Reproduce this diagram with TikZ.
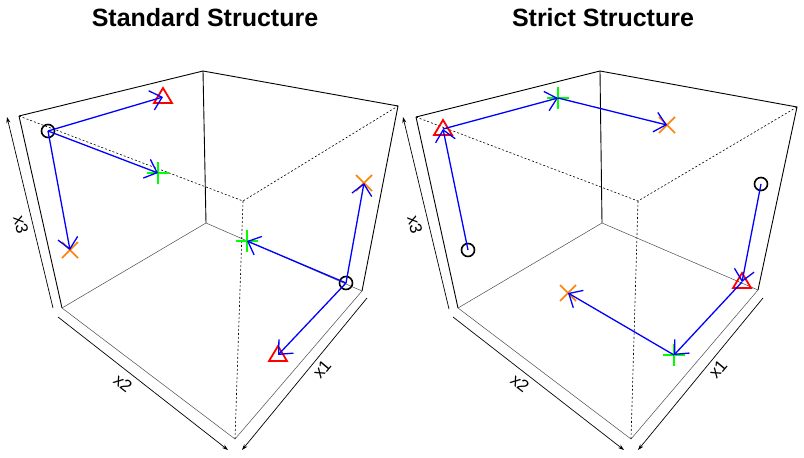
\documentclass[tikz,border=0pt]{standalone}
\usepackage{fontspec}
\setmainfont{Liberation Sans}
\usetikzlibrary{arrows.meta,calc}
\begin{document}
\begin{tikzpicture}[x=1pt,y=-1pt,
  frame/.style={black,line width=0.9pt},
  thinl/.style={black!70,line width=0.5pt},
  dsh/.style={black,line width=0.6pt,dash pattern=on 2pt off 2pt},
  axis/.style={black,line width=0.7pt,-{Stealth[length=6pt,width=4pt]}},
  lab/.style={font=\fontsize{17}{17}\selectfont,inner sep=0pt},
  title/.style={font=\bfseries\fontsize{25}{25}\selectfont},
  vec/.style={blue,line width=1.3pt,-{Straight Barb[length=11pt,width=20pt,line width=1.3pt]}},
  circ/.style={black,line width=1.6pt},
  tri/.style={red,line width=1.8pt},
  pl/.style={green,line width=1.6pt},
  xx/.style={orange,line width=1.6pt}]
\useasboundingbox (0,0) rectangle (804,458);
% markers
\newcommand{\mcirc}[1]{\draw[circ] (#1) circle (6.5);}
\newcommand{\mtri}[1]{\draw[tri] ($(#1)+(0,-9)$) -- ($(#1)+(9,6)$) -- ($(#1)+(-9,6)$) -- cycle;}
\newcommand{\mplus}[1]{\draw[pl] ($(#1)+(-11,0)$) -- ($(#1)+(11,0)$) ($(#1)+(0,-11)$) -- ($(#1)+(0,11)$);}
\newcommand{\mx}[1]{\draw[xx] ($(#1)+(-8,-8)$) -- ($(#1)+(8,8)$) ($(#1)+(8,-8)$) -- ($(#1)+(-8,8)$);}
% ---------- left panel
\node[title] (t1) at (205,18) {Standard Structure};
\coordinate (LA) at (19,116); \coordinate (LB) at (203,71); \coordinate (LC) at (398,106);
\coordinate (LD) at (243,201); \coordinate (LE) at (62,308); \coordinate (LF) at (206,223);
\coordinate (LG) at (362,291); \coordinate (LH) at (235,439);
\draw[frame] (LA) -- (LB) -- (LC) -- (LG); \draw[frame] (LA) -- (LE); \draw[frame] (LB) -- (LF);
\draw[thinl] (LE) -- (LF) -- (LG) -- (LH) -- (LE);
\draw[dsh] (LA) -- (LD) -- (LC); \draw[dsh] (LD) -- (LH);
\coordinate (L3a) at (53,308); \coordinate (L3b) at (7,117);
\coordinate (L2a) at (58,317); \coordinate (L2b) at (228,450);
\coordinate (L1a) at (367,298); \coordinate (L1b) at (242,450);
\draw[axis] (L3a) -- (L3b); \draw[axis] (L2a) -- (L2b); \draw[axis] (L1a) -- (L1b);
\node[lab,rotate=-76] (l3) at (21,225) {x3};
\node[lab,rotate=-38] (l2) at (123,383) {x2};
\node[lab,rotate=50] (l1) at (322,369) {x1};
\coordinate (c1) at (48,131); \coordinate (r1) at (163,97); \coordinate (p1) at (158,173); \coordinate (k1) at (70,250);
\coordinate (c2) at (346,283); \coordinate (p2) at (247,241); \coordinate (k2) at (364,183); \coordinate (r2) at (278,355);
\mcirc{c1} \mtri{r1} \mplus{p1} \mx{k1} \mcirc{c2} \mtri{r2} \mplus{p2} \mx{k2}
\draw[vec] (c1) -- (r1); \draw[vec] (c1) -- (p1); \draw[vec] (c1) -- (k1);
\draw[vec] (c2) -- (p2); \draw[vec] (c2) -- (k2); \draw[vec] (c2) -- (r2);
% ---------- right panel
\node[title] (t2) at (603,18) {Strict Structure};
\coordinate (RA) at (416,117); \coordinate (RB) at (600,71); \coordinate (RC) at (797,107);
\coordinate (RD) at (638,201); \coordinate (RE) at (458,308); \coordinate (RF) at (602,223);
\coordinate (RG) at (758,290); \coordinate (RH) at (631,439);
\draw[frame] (RA) -- (RB) -- (RC) -- (RG); \draw[frame] (RA) -- (RE); \draw[frame] (RB) -- (RF);
\draw[thinl] (RE) -- (RF) -- (RG) -- (RH) -- (RE);
\draw[dsh] (RA) -- (RD) -- (RC); \draw[dsh] (RD) -- (RH);
\coordinate (R3a) at (449,309); \coordinate (R3b) at (403,117);
\coordinate (R2a) at (453,317); \coordinate (R2b) at (624,450);
\coordinate (R1a) at (763,298); \coordinate (R1b) at (638,450);
\draw[axis] (R3a) -- (R3b); \draw[axis] (R2a) -- (R2b); \draw[axis] (R1a) -- (R1b);
\node[lab,rotate=-76] (m3) at (415,225) {x3};
\node[lab,rotate=-38] (m2) at (520,383) {x2};
\node[lab,rotate=50] (m1) at (718,369) {x1};
\coordinate (s1) at (443,129); \coordinate (q1) at (558,98); \coordinate (j1) at (667,125); \coordinate (o1) at (468,250);
\coordinate (o2) at (761,184); \coordinate (s2) at (742,282); \coordinate (q2) at (674,355); \coordinate (j2) at (568,293);
\mcirc{o1} \mtri{s1} \mplus{q1} \mx{j1} \mcirc{o2} \mtri{s2} \mplus{q2} \mx{j2}
\draw[vec] (o1) -- (s1); \draw[vec] (s1) -- (q1); \draw[vec] (q1) -- (j1);
\draw[vec] (o2) -- (s2); \draw[vec] (s2) -- (q2); \draw[vec] (q2) -- (j2);
\end{tikzpicture}
\end{document}
